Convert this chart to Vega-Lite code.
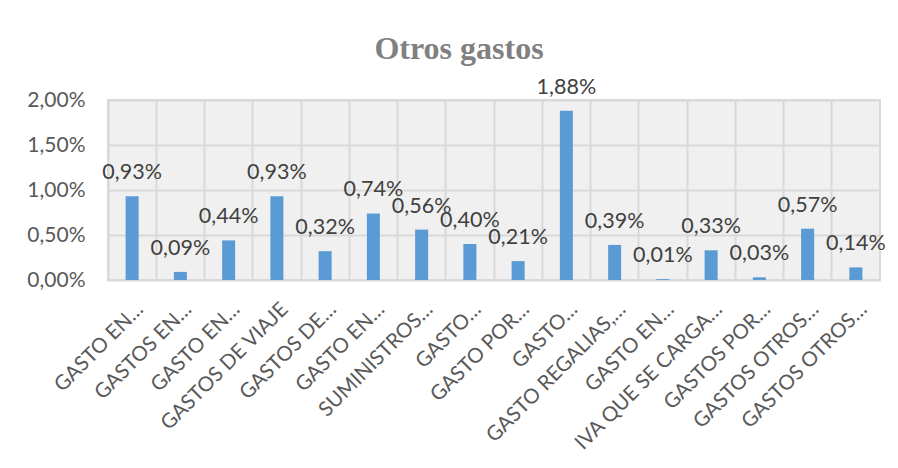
{
  "$schema": "https://vega.github.io/schema/vega-lite/v6.json",
  "width": 772,
  "height": 180,
  "autosize": {"type": "none"},
  "padding": {"left": 108, "top": 100, "right": 18, "bottom": 188},
  "background": "white",
  "title": {
    "text": "Otros gastos",
    "font": "Liberation Serif",
    "fontSize": 32,
    "fontWeight": "bold",
    "color": "#808080",
    "anchor": "middle",
    "dx": -35,
    "offset": 11
  },
  "data": {
    "values": [
      {"i": 1, "label": "GASTO EN…", "v": 0.0093},
      {"i": 2, "label": "GASTOS EN…", "v": 0.0009},
      {"i": 3, "label": "GASTO EN…", "v": 0.0044},
      {"i": 4, "label": "GASTOS DE VIAJE", "v": 0.0093},
      {"i": 5, "label": "GASTOS DE…", "v": 0.0032},
      {"i": 6, "label": "GASTO EN…", "v": 0.0074},
      {"i": 7, "label": "SUMINISTROS…", "v": 0.0056},
      {"i": 8, "label": "GASTO…", "v": 0.0040},
      {"i": 9, "label": "GASTO POR…", "v": 0.0021},
      {"i": 10, "label": "GASTO…", "v": 0.0188},
      {"i": 11, "label": "GASTO REGALIAS,…", "v": 0.0039},
      {"i": 12, "label": "GASTO EN…", "v": 0.0001},
      {"i": 13, "label": "IVA QUE SE CARGA…", "v": 0.0033},
      {"i": 14, "label": "GASTOS POR…", "v": 0.0003},
      {"i": 15, "label": "GASTOS OTROS…", "v": 0.0057},
      {"i": 16, "label": "GASTOS OTROS…", "v": 0.0014}
    ]
  },
  "encoding": {
    "x": {
      "field": "i",
      "type": "ordinal",
      "scale": {"paddingInner": 0, "paddingOuter": 0},
      "axis": {
        "title": null,
        "labelExpr": "['GASTO EN…','GASTOS EN…','GASTO EN…','GASTOS DE VIAJE','GASTOS DE…','GASTO EN…','SUMINISTROS…','GASTO…','GASTO POR…','GASTO…','GASTO REGALIAS,…','GASTO EN…','IVA QUE SE CARGA…','GASTOS POR…','GASTOS OTROS…','GASTOS OTROS…'][datum.value - 1]",
        "labelAngle": -45,
        "labelAlign": "right",
        "labelBaseline": "middle",
        "labelPadding": 26,
        "labelOffset": 8,
        "labelFont": "Lato",
        "labelFontSize": 20.5,
        "labelColor": "#595959",
        "labelLimit": 400,
        "labelOverlap": false,
        "ticks": false,
        "domain": false,
        "grid": true,
        "gridColor": "#D9D9D9",
        "gridWidth": 2,
        "bandPosition": 0
      }
    }
  },
  "layer": [
    {
      "mark": {"type": "bar", "color": "#5B9BD5", "width": {"band": 0.27}},
      "encoding": {
        "y": {
          "field": "v",
          "type": "quantitative",
          "scale": {"domain": [0, 0.02]},
          "axis": {
            "title": null,
            "format": ".2%",
            "values": [0, 0.005, 0.01, 0.015, 0.02],
            "grid": true,
            "gridColor": "#D9D9D9",
            "gridWidth": 2,
            "ticks": false,
            "domain": false,
            "labelFont": "Lato",
            "labelFontSize": 21,
            "labelColor": "#595959",
            "labelPadding": 23
          }
        }
      }
    },
    {
      "mark": {"type": "text", "font": "Lato", "fontSize": 21.5, "color": "#404040", "baseline": "alphabetic", "dy": -17},
      "encoding": {
        "y": {"field": "v", "type": "quantitative"},
        "text": {"field": "v", "type": "quantitative", "format": ".2%"}
      }
    }
  ],
  "config": {
    "locale": {"number": {"decimal": ",", "thousands": ".", "grouping": [3], "currency": ["", " €"]}},
    "view": {"stroke": "#D9D9D9", "strokeWidth": 2, "fill": "#F0F0F0"}
  }
}
